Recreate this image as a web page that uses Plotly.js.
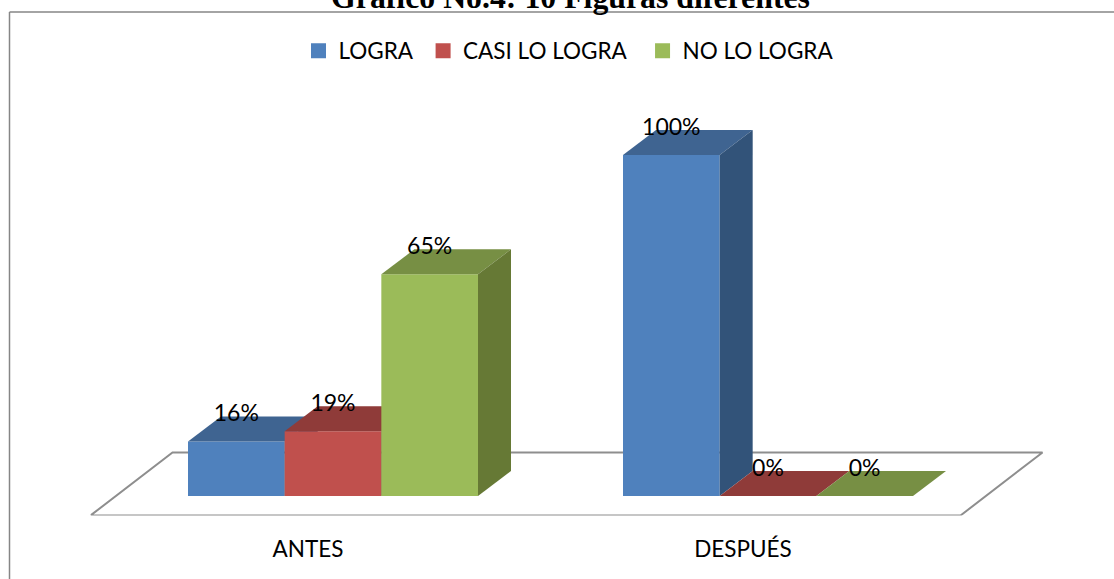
<!DOCTYPE html>
<html><head><meta charset="utf-8">
<script src="https://cdn.plot.ly/plotly-3.0.1.min.js"></script>
<style>html,body{margin:0;padding:0;background:#fff;overflow:hidden}#c{width:1114px;height:579px}</style>
</head><body><div id="c"></div>
<script>
const categories = ['ANTES', 'DESPUÉS'];
const seriesNames = ['LOGRA\u00A0', 'CASI LO LOGRA\u00A0\u00A0', 'NO LO LOGRA'];
const logra = [16, 100];
const casiLoLogra = [19, 0];
const noLoLogra = [65, 0];
const frontColors = ['#4F81BD', '#C0504D', '#9BBB59'];
const topColors = ['#3F6491', '#8F3B39', '#778F44'];
const sideColors = ['#325379', '#7A3230', '#667935'];

const W = 1114, H = 579;
const values = [logra, casiLoLogra, noLoLogra];
const pxPerCat = 435, pxPerPct = 3.41;
const barW = (1 - 1/3) / 3;           // category units
const gapPx = {x: 24.5, y: 19};       // floor edge to bar
const depthPx = {x: 33, y: 25};       // bar depth
const floorPx = {x: 2*gapPx.x + depthPx.x, y: 2*gapPx.y + depthPx.y};
const dxCat = depthPx.x / pxPerCat, dyPct = depthPx.y / pxPerPct;
const floorDxCat = floorPx.x / pxPerCat, floorDyPct = floorPx.y / pxPerPct;

const floorLeft = 90.5, floorBottom = 515.5, plotRight = 1044, plotH = 425;
const barLeft = 115.5, barBottom = 496;
const xRange = left => [-0.5, (plotRight - left) / pxPerCat - 0.5];
const yRange = [0, plotH / pxPerPct];
const yDomain = bottomPx => [(H - bottomPx) / H, (H - bottomPx + plotH) / H];

const data = [];
// floor + category axis
data.push({type:'scatter', mode:'lines', x:[-0.5, 1.5, 1.5+floorDxCat, -0.5+floorDxCat, -0.5],
  y:[0, 0, floorDyPct, floorDyPct, 0], xaxis:'x', yaxis:'y', showlegend:false, hoverinfo:'skip',
  line:{color:'#8E8E8E', width:2}});

values.forEach((vals, s) => {
  const n = s + 2, xa = 'x' + n, ya = 'y' + n;
  data.push({type:'bar', x:[0, 1], y:vals, width:barW, offset:(s - 1.5)*barW, xaxis:xa, yaxis:ya,
    marker:{color:frontColors[s], line:{width:0}}, showlegend:false, hoverinfo:'skip'});
  vals.forEach((v, c) => {
    const x0 = c + (s - 1.5)*barW, x1 = x0 + barW;
    data.push({type:'scatter', mode:'lines', fill:'toself', fillcolor:topColors[s], line:{width:0},
      x:[x0, x1, x1+dxCat, x0+dxCat, x0], y:[v, v, v+dyPct, v+dyPct, v], xaxis:xa, yaxis:ya,
      showlegend:false, hoverinfo:'skip'});
    if (v > 0) data.push({type:'scatter', mode:'lines', fill:'toself', fillcolor:sideColors[s], line:{width:0},
      x:[x1, x1+dxCat, x1+dxCat, x1, x1], y:[0, dyPct, v+dyPct, v, 0], xaxis:xa, yaxis:ya,
      showlegend:false, hoverinfo:'skip'});
  });
});
// data labels, on top of everything
values.forEach((vals, s) => {
  data.push({type:'scatter', mode:'text', x:[0, 1].map(c => c + (s - 1)*barW), y:vals.map(v => v + 26/pxPerPct),
    text:vals.map(v => v + '%'), textposition:'middle center', cliponaxis:false,
    textfont:{family:'Lato', size:23, color:'#000'}, xaxis:'x5', yaxis:'y5', showlegend:false, hoverinfo:'skip'});
});
// legend keys
seriesNames.forEach((name, s) => {
  data.push({type:'scatter', mode:'markers', x:[null], y:[null], name:name, xaxis:'x5', yaxis:'y5',
    marker:{symbol:'square', size:15, color:frontColors[s]}});
});

const hidden = {visible:true, showgrid:false, zeroline:false, showline:false, showticklabels:false, ticks:'', fixedrange:true};
const layout = {
  width:W, height:H, margin:{l:0, r:0, t:0, b:0}, paper_bgcolor:'#fff', plot_bgcolor:'rgba(0,0,0,0)',
  showlegend:true, barmode:'overlay',
  title:{text:'<b>Gráfico No.4: 10 Figuras diferentes</b>', x:570.5/W, xanchor:'center', xref:'paper',
    y:1, yref:'paper', yanchor:'bottom', pad:{b:-8},
    font:{family:'Liberation Serif', size:31.8, color:'#000'}},
  legend:{orientation:'h', x:298.5/W, xanchor:'left', y:1-51/H, yanchor:'middle',
    font:{family:'Lato', size:22.5, color:'#000'}, bgcolor:'rgba(0,0,0,0)', itemclick:false, itemdoubleclick:false},
  xaxis:Object.assign({}, hidden, {domain:[floorLeft/W, plotRight/W], range:xRange(floorLeft), anchor:'y',
    tickmode:'array', tickvals:[0, 1], ticktext:categories, showticklabels:true, ticklabelstandoff:18,
    tickfont:{family:'Lato', size:22.5, color:'#000'}}),
  yaxis:Object.assign({}, hidden, {domain:yDomain(floorBottom), range:yRange, anchor:'x'}),
  shapes:[
    {type:'line', xref:'paper', yref:'paper', x0:9.5/W, x1:1, y0:1-12/H, y1:1-12/H, line:{color:'#868686', width:1.5}},
    {type:'line', xref:'paper', yref:'paper', x0:9.5/W, x1:9.5/W, y0:0, y1:1-12/H, line:{color:'#868686', width:1.5}}
  ]
};
[2, 3, 4, 5].forEach(n => {
  layout['xaxis'+n] = Object.assign({}, hidden, {domain:[barLeft/W, plotRight/W], range:xRange(barLeft), anchor:'y'+n});
  layout['yaxis'+n] = Object.assign({}, hidden, {domain:yDomain(barBottom), range:yRange, anchor:'x'+n});
});
Plotly.newPlot('c', data, layout, {displayModeBar:false, staticPlot:true});
</script></body></html>
